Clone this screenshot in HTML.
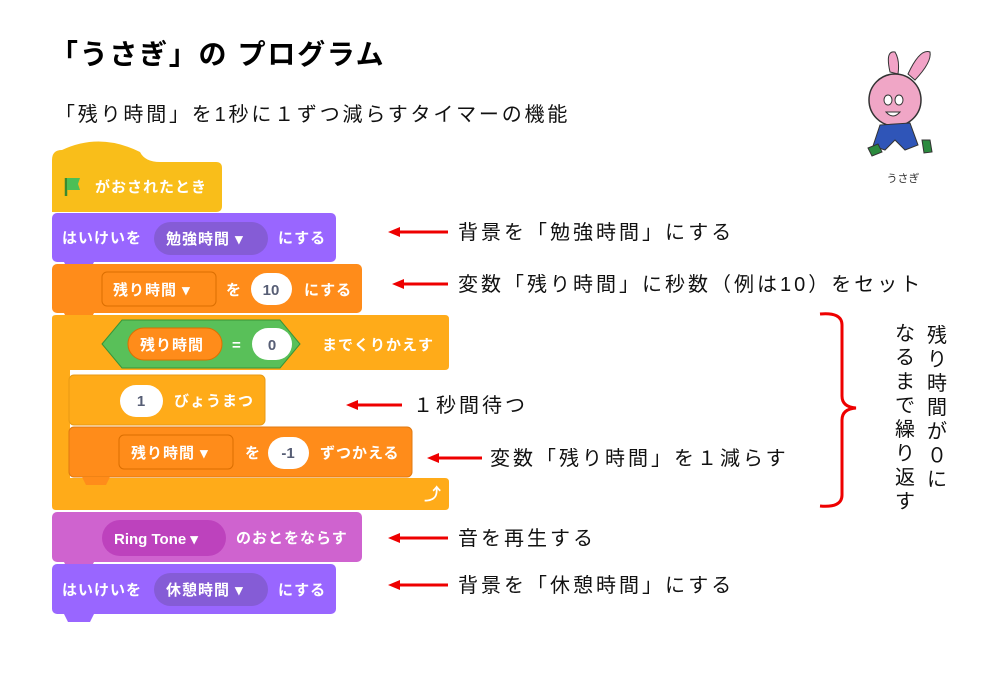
<!DOCTYPE html>
<html><head><meta charset="utf-8"><style>
body{margin:0;background:#fff;width:1000px;height:692px;overflow:hidden}
svg text{font-family:"Liberation Sans","Noto Sans CJK JP",sans-serif}
.w{fill:#fff;font-size:15px;font-weight:bold;letter-spacing:1px}
.k{fill:#575e75;font-size:15px;font-weight:bold}
.a{fill:#111;font-size:20px;letter-spacing:3px}
</style></head><body>
<svg width="1000" height="692" viewBox="0 0 1000 692" xmlns="http://www.w3.org/2000/svg">
<text x="50" y="64" style="font-size:28px;font-weight:bold;letter-spacing:1.7px" fill="#000">「うさぎ」の プログラム</text>
<text x="55" y="121" style="font-size:20px;letter-spacing:2.8px" fill="#111">「残り時間」を1秒に１ずつ減らすタイマーの機能</text>

<!-- hat block -->
<path d="M52,212 V160 Q52,150 62,150 Q100,132 140,152 Q145,162 160,162 H216 Q222,162 222,168 V206 Q222,212 216,212 Z" fill="#F9BE1A"/>
<path d="M66,178 v18" stroke="#3a8a2f" stroke-width="2.5"/><path d="M67,178 h13 l-2,6 l2,6 h-13z" fill="#4cbf56"/>
<text class="w" x="95" y="192">がおされたとき</text>

<!-- looks 1 -->
<rect x="52" y="213" width="284" height="49" rx="5" fill="#9966FF"/>
<polygon points="64,262 94,262 90,270 68,270" fill="#9966FF"/>
<text class="w" x="62" y="243">はいけいを</text>
<rect x="154" y="222" width="114" height="33" rx="16.5" fill="#855CD6"/>
<text class="w" x="166" y="244">勉強時間 ▾</text>
<text class="w" x="278" y="243">にする</text>

<!-- variable set -->
<rect x="52" y="264" width="310" height="49" rx="5" fill="#FF8C1A"/>
<polygon points="64,313 94,313 90,321 68,321" fill="#FF8C1A"/>
<rect x="102" y="272" width="114" height="34" rx="5" fill="#FF8C1A" stroke="#DB6E00"/>
<text class="w" x="113" y="295">残り時間 ▾</text>
<text class="w" x="226" y="295">を</text>
<rect x="251" y="273" width="41" height="32" rx="16" fill="#fff"/>
<text class="k" x="271" y="295" text-anchor="middle">10</text>
<text class="w" x="304" y="295">にする</text>

<!-- loop -->
<path d="M52,318 Q52,315 56,315 H445 Q449,315 449,319 V366 Q449,370 445,370 H70 V478 H445 Q449,478 449,482 V506 Q449,510 445,510 H56 Q52,510 52,506 Z" fill="#FFAB19"/>
<polygon points="102,344 122,320 280,320 300,344 280,368 122,368" fill="#59C059" stroke="#389438"/>
<rect x="128" y="328" width="94" height="32" rx="16" fill="#FF8C1A" stroke="#DB6E00"/>
<text class="w" x="140" y="350">残り時間</text>
<text class="w" x="232" y="350">=</text>
<rect x="252" y="328" width="40" height="32" rx="16" fill="#fff"/>
<text class="k" x="272" y="350" text-anchor="middle">0</text>
<text class="w" x="322" y="350">までくりかえす</text>
<text class="w" x="424" y="500" style="font-size:17px">⤴</text>

<!-- wait -->
<rect x="69" y="375" width="196" height="50" rx="5" fill="#FFAB19" stroke="#E89A14"/>
<rect x="120" y="385" width="43" height="32" rx="16" fill="#fff"/>
<text class="k" x="141" y="406" text-anchor="middle">1</text>
<text class="w" x="174" y="406">びょうまつ</text>

<!-- change -->
<rect x="69" y="427" width="343" height="50" rx="5" fill="#FF8C1A" stroke="#E07A10"/>
<polygon points="82,477 110,477 106,485 86,485" fill="#FF8C1A"/>
<rect x="119" y="435" width="114" height="34" rx="5" fill="#FF8C1A" stroke="#DB6E00"/>
<text class="w" x="131" y="458">残り時間 ▾</text>
<text class="w" x="245" y="458">を</text>
<rect x="268" y="437" width="41" height="32" rx="16" fill="#fff"/>
<text class="k" x="288" y="458" text-anchor="middle">-1</text>
<text class="w" x="320" y="458">ずつかえる</text>

<!-- sound -->
<rect x="52" y="512" width="310" height="50" rx="5" fill="#CF63CF"/>
<polygon points="64,562 94,562 90,570 68,570" fill="#CF63CF"/>
<rect x="102" y="520" width="124" height="36" rx="18" fill="#BD42BD"/>
<text class="w" x="114" y="544" style="letter-spacing:0">Ring Tone ▾</text>
<text class="w" x="236" y="543">のおとをならす</text>

<!-- looks 2 -->
<rect x="52" y="564" width="284" height="50" rx="5" fill="#9966FF"/>
<polygon points="64,614 94,614 90,622 68,622" fill="#9966FF"/>
<text class="w" x="62" y="595">はいけいを</text>
<rect x="154" y="573" width="114" height="33" rx="16.5" fill="#855CD6"/>
<text class="w" x="166" y="595">休憩時間 ▾</text>
<text class="w" x="278" y="595">にする</text>

<!-- arrows -->
<g stroke="#e00" stroke-width="3" fill="#e00">
<line x1="398" y1="232" x2="448" y2="232"/><polygon points="388,232 400,227 400,237" stroke="none"/>
<line x1="402" y1="284" x2="448" y2="284"/><polygon points="392,284 404,279 404,289" stroke="none"/>
<line x1="356" y1="405" x2="402" y2="405"/><polygon points="346,405 358,400 358,410" stroke="none"/>
<line x1="437" y1="458" x2="482" y2="458"/><polygon points="427,458 439,453 439,463" stroke="none"/>
<line x1="398" y1="538" x2="448" y2="538"/><polygon points="388,538 400,533 400,543" stroke="none"/>
<line x1="398" y1="585" x2="448" y2="585"/><polygon points="388,585 400,580 400,590" stroke="none"/>
</g>
<text class="a" x="458" y="239">背景を「勉強時間」にする</text>
<text class="a" x="458" y="291">変数「残り時間」に秒数（例は10）をセット</text>
<text class="a" x="413" y="412">１秒間待つ</text>
<text class="a" x="490" y="465">変数「残り時間」を１減らす</text>
<text class="a" x="458" y="545">音を再生する</text>
<text class="a" x="458" y="592">背景を「休憩時間」にする</text>

<!-- brace -->
<path d="M820,314 Q842,312 842,325 V396 Q842,407 856,408 Q842,409 842,420 V495 Q842,508 820,506" fill="none" stroke="#e00" stroke-width="3"/>
<g style="font-size:20px" fill="#111" text-anchor="middle">
<text x="937" y="342">残</text><text x="937" y="366">り</text><text x="937" y="390">時</text><text x="937" y="414">間</text><text x="937" y="438">が</text><text x="937" y="462">０</text><text x="937" y="486">に</text>
<text x="905" y="340">な</text><text x="905" y="364">る</text><text x="905" y="388">ま</text><text x="905" y="412">で</text><text x="905" y="436">繰</text><text x="905" y="460">り</text><text x="905" y="484">返</text><text x="905" y="508">す</text>
</g>

<!-- rabbit -->
<path d="M890,72 Q885,50 895,52 Q900,60 898,74 Z" fill="#f2a3c7" stroke="#333"/>
<path d="M908,74 Q920,48 930,52 Q932,62 915,80 Z" fill="#f2a3c7" stroke="#333"/>
<circle cx="895" cy="100" r="26" fill="#f0a6c6" stroke="#333" stroke-width="1.5"/>
<ellipse cx="888" cy="100" rx="4" ry="5" fill="#fff" stroke="#333"/><ellipse cx="899" cy="100" rx="4" ry="5" fill="#fff" stroke="#333"/>
<path d="M886,112 Q893,120 900,112 Z" fill="#fff" stroke="#333"/>
<path d="M880,125 L910,123 L918,145 L905,150 L895,140 L885,150 L873,146 Z" fill="#2f55b8" stroke="#333"/>
<path d="M868,148 l10,-4 l4,8 l-10,4z M922,140 l8,0 l2,12 l-8,1z" fill="#2b8a3e" stroke="#333"/>
<text x="903" y="182" text-anchor="middle" style="font-size:11px" fill="#333">うさぎ</text>
</svg>
</body></html>
